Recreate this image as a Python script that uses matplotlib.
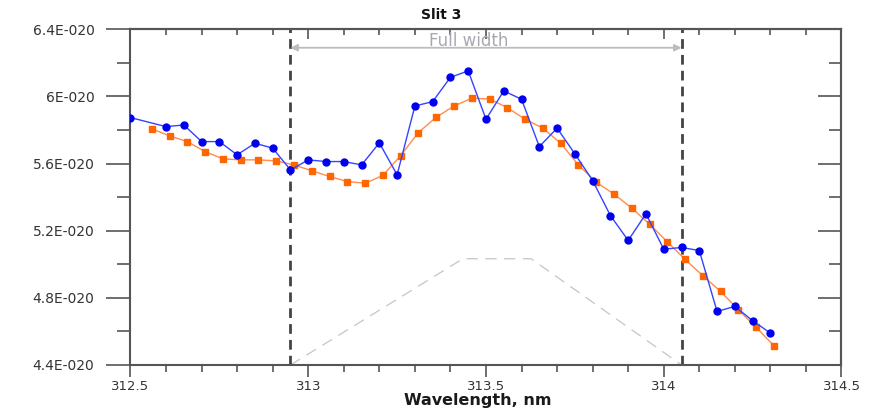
import matplotlib
matplotlib.use("Agg")
import matplotlib.pyplot as plt
import numpy as np
from matplotlib.ticker import MultipleLocator, FuncFormatter

plt.rcParams['font.family'] = ['DejaVu Sans']

# wavelength grids (nm)
wl_meas = [312.5, 312.6, 312.65, 312.7, 312.75, 312.8, 312.85, 312.9, 312.95,
           313.0, 313.05, 313.1, 313.15, 313.2, 313.25, 313.3, 313.35, 313.4,
           313.45, 313.5, 313.55, 313.6, 313.65, 313.7, 313.75, 313.8, 313.85,
           313.9, 313.95, 314.0, 314.05, 314.1, 314.15, 314.2, 314.25, 314.3]
# measured signal, units of 1E-020
meas = [5.874, 5.820, 5.830, 5.731, 5.731, 5.652, 5.721, 5.692, 5.562,
        5.622, 5.612, 5.612, 5.592, 5.723, 5.533, 5.943, 5.969, 6.114,
        6.152, 5.864, 6.033, 5.983, 5.701, 5.811, 5.658, 5.499, 5.290,
        5.142, 5.301, 5.090, 5.100, 5.082, 4.719, 4.749, 4.664, 4.590]

wl_conv = [312.56, 312.61, 312.66, 312.71, 312.76, 312.81, 312.86, 312.91,
           312.96, 313.01, 313.06, 313.11, 313.16, 313.21, 313.26, 313.31,
           313.36, 313.41, 313.46, 313.51, 313.56, 313.61, 313.66, 313.71,
           313.76, 313.81, 313.86, 313.91, 313.96, 314.01, 314.06, 314.11,
           314.16, 314.21, 314.26, 314.31]
conv = [5.807, 5.765, 5.731, 5.671, 5.628, 5.622, 5.622, 5.616,
        5.592, 5.557, 5.523, 5.493, 5.483, 5.529, 5.648, 5.785,
        5.876, 5.943, 5.989, 5.985, 5.933, 5.864, 5.811, 5.721,
        5.592, 5.489, 5.418, 5.335, 5.239, 5.134, 5.029, 4.932,
        4.838, 4.729, 4.624, 4.515]

# slit function outline and full-width limits
slit_x = [312.95, 313.435, 313.627, 314.05]
slit_y = [4.4, 5.033, 5.033, 4.4]
fw_left, fw_right = 312.95, 314.05
fw_level = 6.29

fig = plt.figure(figsize=(8.74, 4.09), dpi=100)
ax = fig.add_axes([0.1493, 0.1076, 0.8135, 0.8208])

ax.plot(slit_x, slit_y, color='#c4c4cc', lw=0.9, dashes=(9, 6), zorder=1)
for xv in (fw_left, fw_right):
    ax.axvline(xv, color='#444444', lw=2, dashes=(3.5, 2.2), zorder=2)

ax.annotate('', xy=(fw_left, fw_level), xytext=(fw_right, fw_level),
            arrowprops=dict(arrowstyle='<|-|>', color='#bdbdb8', lw=1.3,
                            mutation_scale=10, shrinkA=0, shrinkB=0))
ax.text((fw_left + fw_right) / 2 - 0.05, fw_level - 0.012, 'Full width',
        color='#a8a8b0', fontsize=12, ha='center', va='bottom')

ax.plot(wl_meas, meas, color='#3344ff', lw=1, marker='o', ms=5,
        mfc='#0000ee', mec='#0000ee', zorder=4)
ax.plot(wl_conv, conv, color='#ff8c4c', lw=1, marker='s', ms=4.5,
        mfc='#ff6600', mec='#ff6600', zorder=3)

ax.set_xlim(312.5, 314.5)
ax.set_ylim(4.4, 6.4)
ax.xaxis.set_major_locator(MultipleLocator(0.5))
ax.xaxis.set_minor_locator(MultipleLocator(0.1))
ax.yaxis.set_major_locator(MultipleLocator(0.4))
ax.yaxis.set_minor_locator(MultipleLocator(0.2))
ax.yaxis.set_major_formatter(FuncFormatter(lambda v, p: f"{v:g}E-020"))
ax.xaxis.set_major_formatter(FuncFormatter(lambda v, p: f"{v:g}"))

tick_col = '#555555'
ax.tick_params(axis='x', which='major', direction='out', length=8.5, width=1.2,
               color=tick_col, labelsize=9.5, labelcolor='#333338', pad=2.5)
ax.tick_params(axis='x', which='minor', direction='out', length=4.8, width=1.2,
               color=tick_col)
ax.tick_params(axis='y', which='major', direction='out', length=17, width=1.2,
               color=tick_col, labelsize=10, labelcolor='#333338', pad=9)
ax.tick_params(axis='y', which='minor', direction='out', length=9.5, width=1.2,
               color=tick_col)

top = ax.secondary_xaxis('top')
top.xaxis.set_major_locator(MultipleLocator(0.5))
top.xaxis.set_minor_locator(MultipleLocator(0.1))
top.tick_params(which='major', direction='in', length=7.5, width=1.2, color=tick_col, labeltop=False)
top.tick_params(which='minor', direction='in', length=4.2, width=1.2, color=tick_col)
right = ax.secondary_yaxis('right')
right.yaxis.set_major_locator(MultipleLocator(0.4))
right.yaxis.set_minor_locator(MultipleLocator(0.2))
right.tick_params(which='major', direction='in', length=16.5, width=1.2, color=tick_col, labelright=False)
right.tick_params(which='minor', direction='in', length=8.5, width=1.2, color=tick_col)

for sec in (top, right):
    for s in sec.spines.values():
        s.set_color(tick_col)
        s.set_linewidth(1.5)
for s in ax.spines.values():
    s.set_color(tick_col)
    s.set_linewidth(1.5)

fig.text(0.547, 0.022, 'Wavelength, nm', ha='center', va='center',
         fontsize=11.5, fontweight='bold', color='#1a1a1a')
fig.text(0.505, 0.963, 'Slit 3', ha='center', va='center', fontsize=10,
         fontweight='bold', color='#111111')

fig.savefig('out.png', dpi=100)
